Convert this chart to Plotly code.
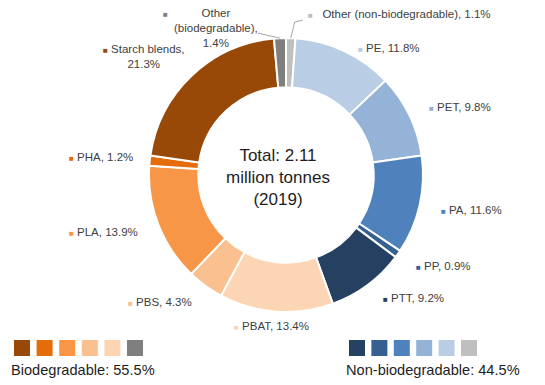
import math
import plotly.graph_objects as go

# ---------------- data ----------------
categories = ["Other (non-biodegradable)", "PE", "PET", "PA", "PP", "PTT",
              "PBAT", "PBS", "PLA", "PHA", "Starch blends", "Other (biodegradable)"]
shares = [1.1, 11.8, 9.8, 11.6, 0.9, 9.2, 13.4, 4.3, 13.9, 1.2, 21.3, 1.4]
center_lines = ["Total: 2.11", "million tonnes", "(2019)"]
group_names = ["Biodegradable", "Non-biodegradable"]
group_shares = [55.5, 44.5]
bio_order = ["Starch blends", "PHA", "PLA", "PBS", "PBAT", "Other (biodegradable)"]
nonbio_order = ["PTT", "PP", "PA", "PET", "PE", "Other (non-biodegradable)"]

# ---------------- style ----------------
colors = {
    "Other (non-biodegradable)": "#BFBFBF",
    "PE": "#B9CDE5",
    "PET": "#95B3D7",
    "PA": "#4F81BD",
    "PP": "#376092",
    "PTT": "#254061",
    "PBAT": "#FCD5B5",
    "PBS": "#FAC090",
    "PLA": "#F79646",
    "PHA": "#E46C0A",
    "Starch blends": "#984807",
    "Other (biodegradable)": "#7F7F7F",
}
W, H = 545, 385
cx, cy, R = 286, 175, 137
FONT = "Liberation Sans, Arial, sans-serif"
LABEL_COLOR = "#404040"
LABEL_SIZE = 11.5
nudge = {"PE": (3, 15), "PHA": (5, -1), "PTT": (1, -3), "Starch blends": (9, -4),
         "PBAT": (-3, -6)}


def px(x):
    return x / W


def py(y):
    return 1 - y / H


fig = go.Figure()
fig.add_trace(go.Pie(
    labels=categories, values=shares, sort=False, direction="clockwise",
    rotation=0, hole=0.64, textinfo="none", hoverinfo="label+percent",
    marker=dict(colors=[colors[c] for c in categories],
                line=dict(color="white", width=2)),
    domain=dict(x=[px(cx - R), px(cx + R)], y=[py(cy + R), py(cy - R)]),
    showlegend=False,
))

total = sum(shares)
mids = []
cum = 0
for v in shares:
    mids.append(math.radians(360 * (cum + v / 2) / total))
    cum += v


def sq(c):
    return f"<span style='color:{c};font-size:8px'>■</span>"


annotations = []
shapes = []
for name, v, th in zip(categories, shares, mids):
    if name.startswith("Other"):
        continue
    Rl = 157
    x = cx + Rl * math.sin(th)
    y = cy - Rl * math.cos(th)
    dx, dy = nudge.get(name, (0, 0))
    x += dx
    y += dy
    s = math.sin(th)
    xa = "left" if s > 0.3 else ("right" if s < -0.3 else "center")
    if name == "Starch blends":
        text = f"{sq(colors[name])}\u00a0Starch blends,<br>{v:.1f}%"
    else:
        text = f"{sq(colors[name])}\u00a0{name}, {v:.1f}%"
    annotations.append(dict(x=px(x), y=py(y), xref="paper", yref="paper",
                            text=text, showarrow=False, xanchor=xa, yanchor="middle",
                            font=dict(size=LABEL_SIZE, color=LABEL_COLOR, family=FONT)))

# Other (non-biodegradable) label with leader line
i = categories.index("Other (non-biodegradable)")
th = mids[i]
tx, ty = cx + R * math.sin(th), cy - R * math.cos(th)
shapes.append(dict(type="path", xref="paper", yref="paper",
                   path=f"M {px(tx)} {py(ty)} L {px(tx + 4)} {py(ty - 16)} L {px(tx + 12)} {py(ty - 18)}",
                   line=dict(color="#A6A6A6", width=1)))
annotations.append(dict(x=px(tx + 15), y=py(ty - 24), xref="paper", yref="paper",
                        text=f"{sq(colors[categories[i]])}\u00a0\u00a0\u00a0Other (non-biodegradable), {shares[i]:.1f}%",
                        showarrow=False, xanchor="left", yanchor="middle",
                        font=dict(size=LABEL_SIZE, color=LABEL_COLOR, family=FONT)))

# Other (biodegradable) label with leader line
i = categories.index("Other (biodegradable)")
th = mids[i]
tx, ty = cx + R * math.sin(th), cy - R * math.cos(th)
shapes.append(dict(type="path", xref="paper", yref="paper",
                   path=f"M {px(tx)} {py(ty)} L {px(tx - 22)} {py(ty - 5)}",
                   line=dict(color="#A6A6A6", width=1)))
annotations.append(dict(x=px(tx - 64), y=py(ty - 10), xref="paper", yref="paper",
                        text=f"Other<br>(biodegradable),<br>{shares[i]:.1f}%",
                        showarrow=False, xanchor="center", yanchor="middle", align="center",
                        font=dict(size=LABEL_SIZE, color=LABEL_COLOR, family=FONT)))
annotations.append(dict(x=px(tx - 114), y=py(ty - 24), xref="paper", yref="paper",
                        text=sq(colors[categories[i]]), showarrow=False,
                        xanchor="center", yanchor="middle",
                        font=dict(size=LABEL_SIZE, color=LABEL_COLOR, family=FONT)))

# centre text
annotations.append(dict(x=px(cx - 8), y=py(cy + 3), xref="paper", yref="paper",
                        text="<br>".join(center_lines), showarrow=False,
                        xanchor="center", yanchor="middle", align="center",
                        font=dict(size=17, color="#1E1E1E", family=FONT)))

# group legends
for k, (order, x0, step) in enumerate([(bio_order, 14, 22.6), (nonbio_order, 349, 22.4)]):
    for j, name in enumerate(order):
        shapes.append(dict(type="rect", xref="paper", yref="paper",
                           x0=px(x0 + j * step), x1=px(x0 + j * step + 16),
                           y0=py(356), y1=py(340),
                           fillcolor=colors[name], line=dict(width=0)))
annotations.append(dict(x=px(9), y=py(370), xref="paper", yref="paper",
                        text=f"{group_names[0]}: {group_shares[0]:.1f}%", showarrow=False,
                        xanchor="left", yanchor="middle",
                        font=dict(size=14.6, color="#1E1E1E", family=FONT)))
annotations.append(dict(x=px(522), y=py(370), xref="paper", yref="paper",
                        text=f"{group_names[1]}: {group_shares[1]:.1f}%", showarrow=False,
                        xanchor="right", yanchor="middle",
                        font=dict(size=14.6, color="#1E1E1E", family=FONT)))

fig.update_layout(width=W, height=H, margin=dict(l=0, r=0, t=0, b=0),
                  paper_bgcolor="white", plot_bgcolor="white",
                  font=dict(family=FONT), annotations=annotations, shapes=shapes)
fig.write_html("out.html", config={"displayModeBar": False},
               post_script="document.body.style.margin='0px';document.body.style.overflow='hidden';")
